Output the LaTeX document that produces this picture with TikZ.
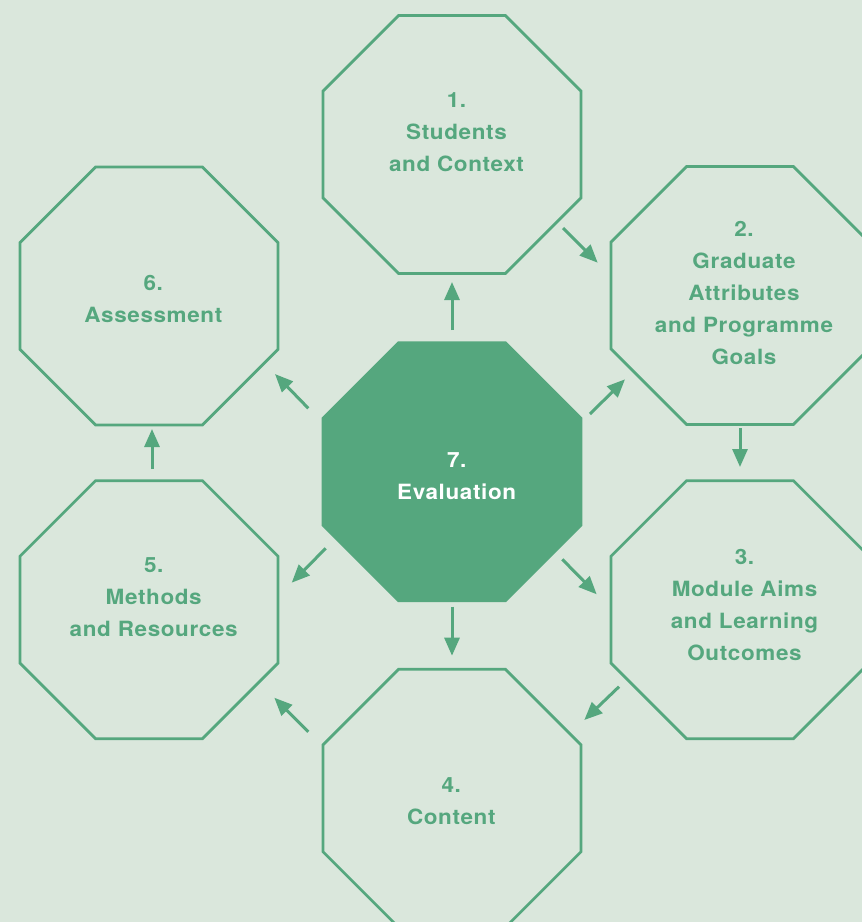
\documentclass[tikz,border=0pt]{standalone}
\usepackage{fontspec}
\newfontfamily\labfont{TeX Gyre Heros}[LetterSpace=3,FakeStretch=1.07]
\usetikzlibrary{shapes.geometric,arrows.meta}
\definecolor{bg}{HTML}{DAE7DC}
\definecolor{grn}{HTML}{55A77E}
\tikzset{
  octo/.style={shape=regular polygon, regular polygon sides=8, minimum size=279.3pt,
    inner sep=0pt, outer sep=0pt, draw=grn, line width=2.8pt},
  octofill/.style={octo, fill=grn},
  lab/.style={align=center, inner sep=0pt, text=grn,
    font={\labfont\bfseries\fontsize{21}{32}\selectfont}},
  labw/.style={lab, text=white},
  arr/.style={draw=grn, line width=3pt, -{Triangle[length=18pt,width=15pt]}}
}
\begin{document}
\begin{tikzpicture}[x=1pt,y=-1pt]
\fill[bg] (0,0) rectangle (862,922);
\useasboundingbox (0,0) rectangle (862,922);
% octagons
\node[octo] (o1) at (452,144.5) {};
\node[octo] (o2) at (740,295.5) {};
\node[octo] (o3) at (740,609.7) {};
\node[octo] (o4) at (452,798.3) {};
\node[octo] (o5) at (149,609.7) {};
\node[octo] (o6) at (149,296) {};
\node[octofill] (o7) at (452,471.7) {};
% labels
\node[lab] (t1) at (456.5,132.3) {1.\\Students\\and Context};
\node[lab] (t2) at (744,293.2) {2.\\Graduate\\Attributes\\and Programme\\Goals};
\node[lab] (t3) at (744.5,605.3) {3.\\Module Aims\\and Learning\\Outcomes};
\node[lab] (t4) at (451.3,801) {4.\\Content};
\node[lab] (t5) at (153.7,597) {5.\\Methods\\and Resources};
\node[lab] (t6) at (153.3,298.7) {6.\\Assessment};
\node[labw] (t7) at (456.7,476.2) {7.\\Evaluation};
% arrow end points
\coordinate (a71s) at (452,330);     \coordinate (a71e) at (452,282);
\coordinate (a12s) at (563,228);     \coordinate (a12e) at (597.7,262.7);
\coordinate (a72s) at (590,414);     \coordinate (a72e) at (625,379.3);
\coordinate (a23s) at (740,428);     \coordinate (a23e) at (740,467);
\coordinate (a73s) at (562.3,559.3); \coordinate (a73e) at (596.7,594.3);
\coordinate (a34s) at (619,686.7);   \coordinate (a34e) at (584.3,720);
\coordinate (a74s) at (452,606.7);   \coordinate (a74e) at (452,655.7);
\coordinate (a75s) at (325.7,548.3); \coordinate (a75e) at (291.7,582.7);
\coordinate (a45s) at (308.3,731.7); \coordinate (a45e) at (274.3,697.7);
\coordinate (a56s) at (152,469);     \coordinate (a56e) at (152,429);
\coordinate (a76s) at (308.3,408.3); \coordinate (a76e) at (275,374);
\draw[arr] (a71s) -- (a71e);
\draw[arr] (a12s) -- (a12e);
\draw[arr] (a72s) -- (a72e);
\draw[arr] (a23s) -- (a23e);
\draw[arr] (a73s) -- (a73e);
\draw[arr] (a34s) -- (a34e);
\draw[arr] (a74s) -- (a74e);
\draw[arr] (a75s) -- (a75e);
\draw[arr] (a45s) -- (a45e);
\draw[arr] (a56s) -- (a56e);
\draw[arr] (a76s) -- (a76e);
\end{tikzpicture}
\end{document}
